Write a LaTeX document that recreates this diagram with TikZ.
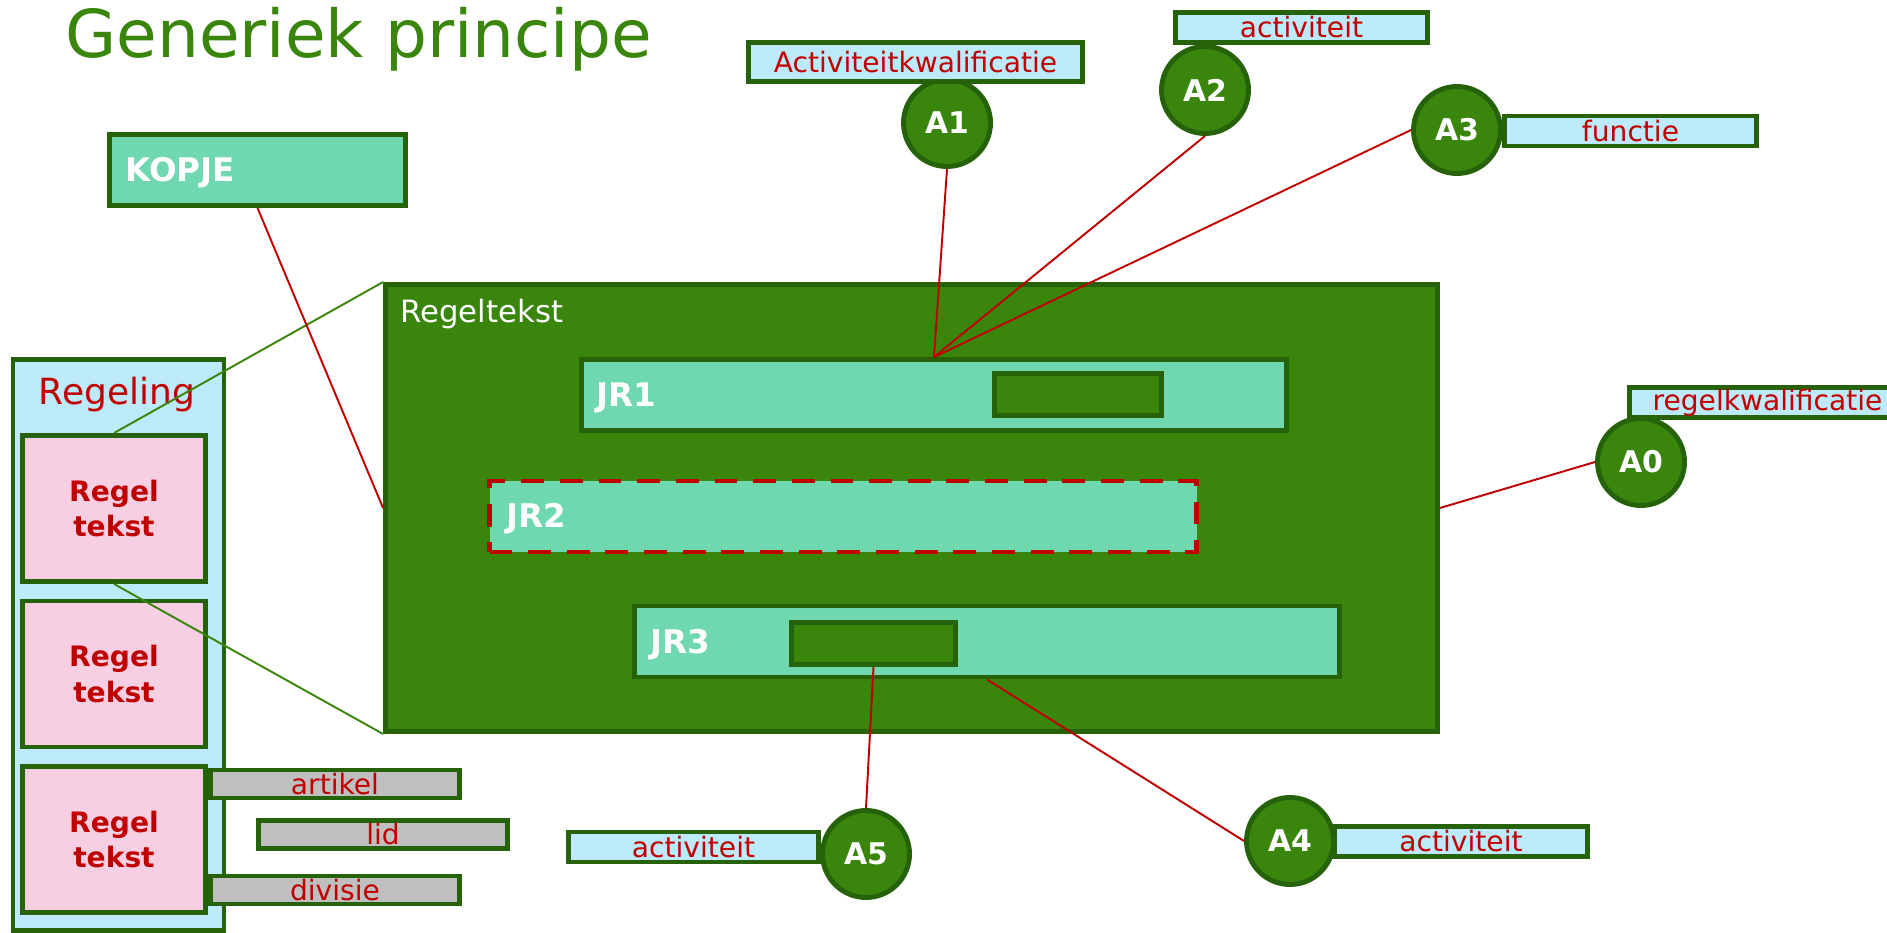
\documentclass[tikz,border=0pt]{standalone}
\usepackage{fontspec}
\setmainfont{DejaVu Sans}
\usetikzlibrary{positioning}
\definecolor{rgdark}{RGB}{38,98,10}
\definecolor{rggreen}{RGB}{58,134,13}
\definecolor{rgteal}{RGB}{111,216,174}
\definecolor{rgblue}{RGB}{189,234,250}
\definecolor{rgpink}{RGB}{247,207,226}
\definecolor{rggrey}{RGB}{191,191,191}
\definecolor{rgred}{RGB}{192,0,0}
\tikzstyle{outlined}=[draw=rgdark, line width=2.8pt, inner sep=0]
\tikzstyle{container}=[outlined, fill=rggreen, minimum width=21.04cm, minimum height=8.94cm]
\tikzstyle{block}=[outlined, fill=rgteal, minimum width=14.10cm, minimum height=1.42cm]
\tikzstyle{slot}=[outlined, fill=rggreen, minimum height=0.84cm]
\tikzstyle{attribute}=[outlined, circle, fill=rggreen, minimum size=1.74cm, text=white, font=\bfseries\fontsize{17}{20}\selectfont]
\tikzstyle{tag}=[outlined, fill=rgblue, minimum height=0.60cm, text=rgred, font=\fontsize{16}{19}\selectfont]
\tikzstyle{element}=[outlined, fill=rggrey, minimum width=4.98cm, minimum height=0.56cm, text=rgred, font=\fontsize{16}{19}\selectfont]
\tikzstyle{regel}=[outlined, fill=rgpink, minimum width=3.66cm, minimum height=2.92cm, align=center, text=rgred, font=\bfseries\fontsize{16}{20.3}\selectfont]
\tikzstyle{regeling}=[outlined, fill=rgblue, minimum width=4.22cm, minimum height=11.42cm]
\tikzstyle{box caption}=[inner sep=0, anchor=base west, text=white, font=\bfseries\fontsize{18.5}{22}\selectfont]
\tikzstyle{reference}=[rgred, line width=1.1pt]
\tikzstyle{nesting}=[rggreen, line width=1.1pt]

\begin{document}
\begin{tikzpicture}
  \useasboundingbox (0, 0) rectangle (37.74, -18.66);

  \node[anchor=base west, inner sep=0, text=rggreen, font=\fontsize{37.6}{44}\selectfont] (title) at (1.30, -1.16) {Generiek principe};

  % regeling met regelteksten
  \node[regeling] (regeling) at (2.37, -12.90) {};
  \node[text=rgred, font=\fontsize{20.5}{24}\selectfont] (regeling_name) at (2.34, -7.89) {Regeling};
  \node[regel] (regel_a) at (2.28, -10.17) {Regel\\tekst};
  \node[regel] (regel_b) at (2.28, -13.48) {Regel\\tekst};
  \node[regel] (regel_c) at (2.28, -16.79) {Regel\\tekst};
  \node[element] (artikel) at (6.70, -15.68) {artikel};
  \node[element] (lid) at (7.66, -16.69) {lid};
  \node[element] (divisie) at (6.70, -17.80) {divisie};

  \node[outlined, fill=rgteal, minimum width=5.92cm, minimum height=1.42cm] (kopje) at (5.15, -3.40) {};
  \node[box caption] (kopje_name) at ([shift={(0.36,-0.23)}]kopje.west) {KOPJE};

  % regeltekst met juridische regels
  \node[container] (regeltekst) at (18.23, -10.16) {};
  \node[inner sep=0, text=white, font=\fontsize{17.5}{21}\selectfont, below right=0.34cm and 0.34cm of regeltekst.north west] (regeltekst_name) {Regeltekst};

  \node[block] (jr1) at (18.68, -7.90) {};
  \node[box caption] (jr1_name) at ([shift={(0.34,-0.23)}]jr1.west) {JR1};
  \node[slot, minimum width=3.34cm] (jr1_slot) at (21.56, -7.89) {};

  \node[block, minimum width=14.14cm, draw=rgred, dash pattern=on 13pt off 9pt] (jr2) at (16.86, -10.33) {};
  \node[box caption] (jr2_name) at ([shift={(0.38,-0.23)}]jr2.west) {JR2};

  \node[block] (jr3) at (19.74, -12.83) {};
  \node[box caption] (jr3_name) at ([shift={(0.36,-0.23)}]jr3.west) {JR3};
  \node[slot, minimum width=3.28cm] (jr3_slot) at (17.47, -12.87) {};

  % annotaties
  \node[tag, minimum width=5.04cm] (functie) at (32.61, -2.62) {functie};
  \node[tag, minimum width=5.00cm] (activiteit_a5) at (13.87, -16.94) {activiteit};
  \node[tag, minimum width=5.06cm] (activiteit_a4) at (29.22, -16.83) {activiteit};

  \node[attribute] (a1) at (18.94, -2.46) {A1};
  \node[attribute] (a2) at (24.10, -1.80) {A2};
  \node[attribute] (a3) at (29.14, -2.60) {A3};
  \node[attribute] (a0) at (32.82, -9.24) {A0};
  \node[attribute] (a5) at (17.32, -17.08) {A5};
  \node[attribute] (a4) at (25.80, -16.82) {A4};

  \node[tag, minimum width=6.68cm, minimum height=0.78cm] (kwalificatie) at (18.31, -1.24) {Activiteitkwalificatie};
  \node[tag, minimum width=5.04cm] (activiteit_a2) at (26.03, -0.55) {activiteit};
  \node[tag, minimum width=5.52cm] (regelkwalificatie) at (35.35, -8.05) {regelkwalificatie};

  \draw[nesting] (regel_a.north) to (regeltekst.north west);
  \draw[nesting] (regel_a.south) to (regeltekst.south west);
  \draw[reference] (kopje.south) to (regeltekst.west);
  \draw[reference] (jr1.north) to (a1.south);
  \draw[reference] (jr1.north) to (a2.south);
  \draw[reference] (jr1.north) to (a3.west);
  \draw[reference] (regeltekst.east) to (a0.west);
  \draw[reference] (jr3_slot.south) to (a5.north);
  \draw[reference] (jr3.south) to (a4.west);
\end{tikzpicture}
\end{document}
